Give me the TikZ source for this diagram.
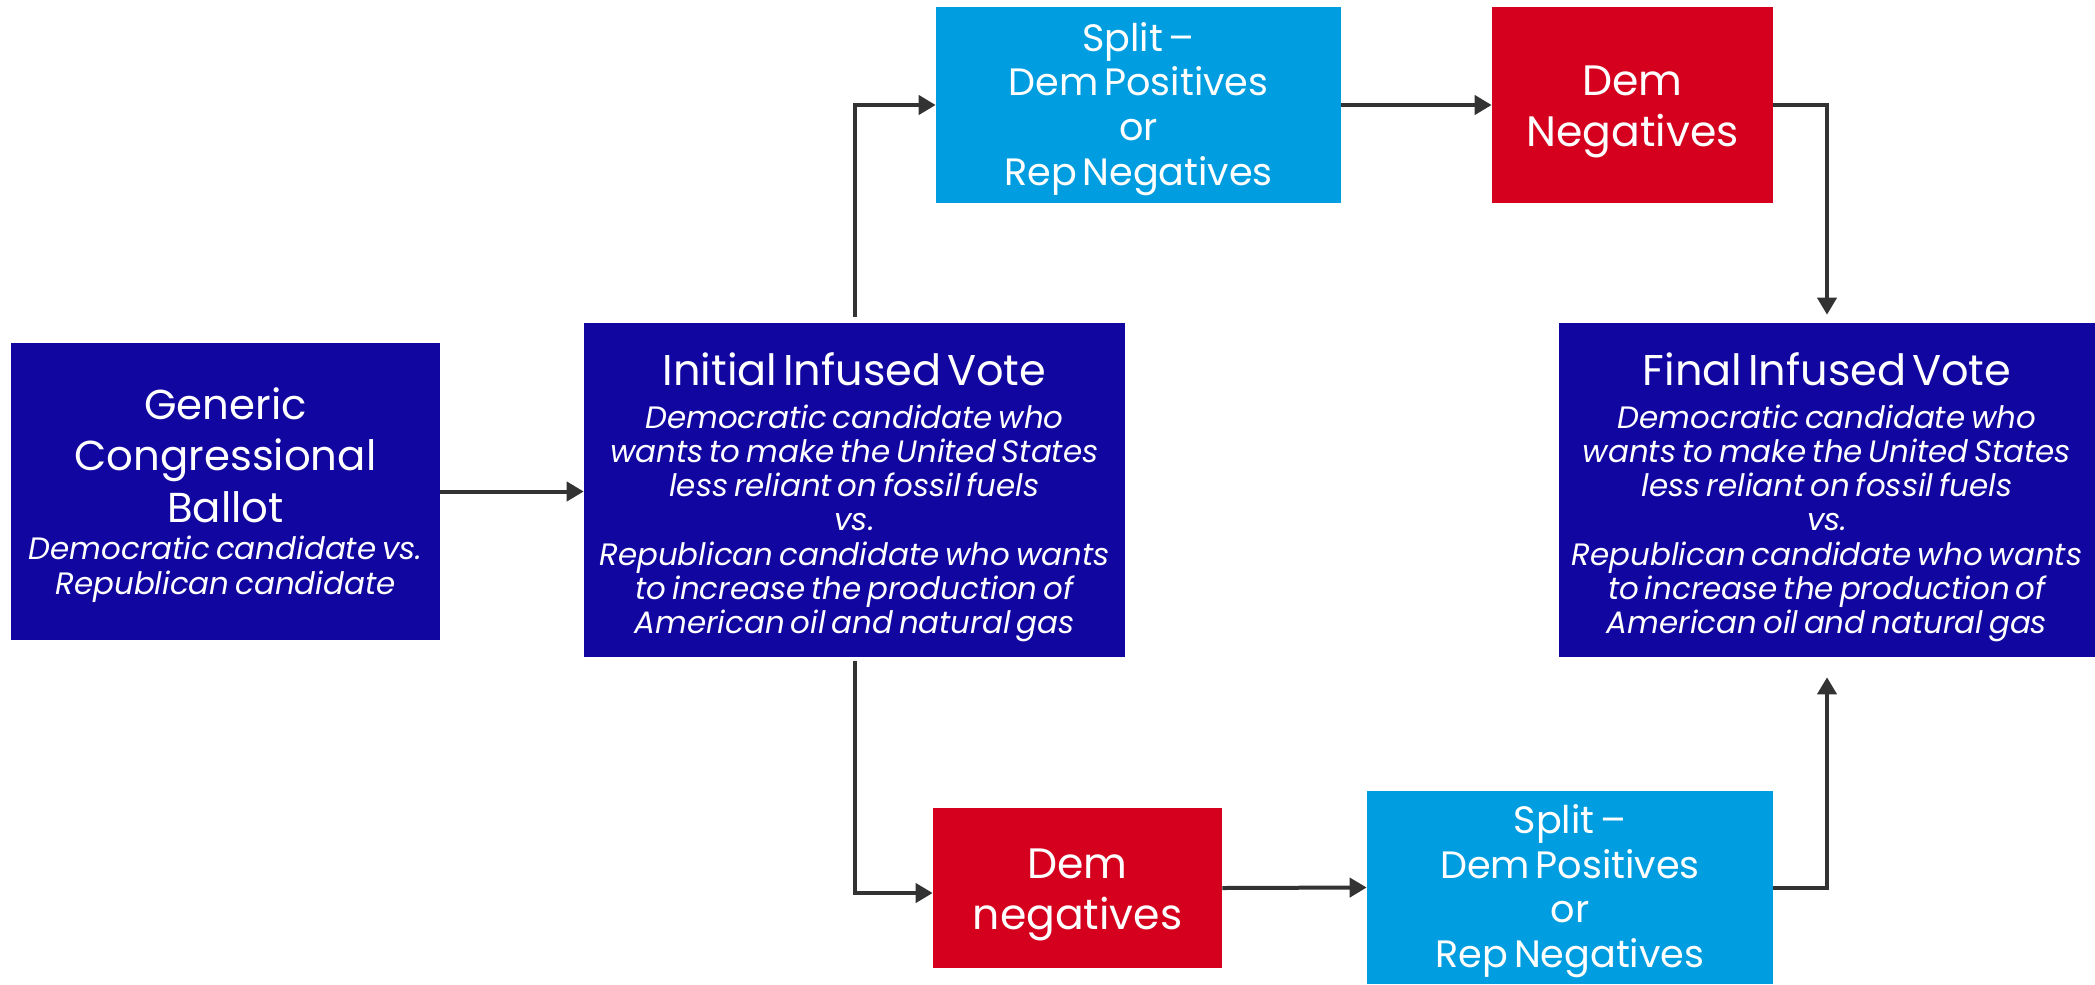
\documentclass[tikz,border=0pt]{standalone}
\usepackage{fontspec}
\setmainfont{Poppins}
\usetikzlibrary{arrows.meta}
\definecolor{navyblue}{RGB}{17,6,160}
\definecolor{skyblue}{RGB}{0,158,224}
\definecolor{demred}{RGB}{213,0,30}
\definecolor{arrowgray}{RGB}{51,51,51}
\newcommand{\push}[1]{\par\vspace*{#1}}
\newcommand{\hd}[3]{{\fontsize{#1}{#2}\selectfont #3\par}}
\newcommand{\sub}[1]{{\fontsize{17.6}{19.5}\selectfont\itshape #1\par}}

\begin{document}
\begin{tikzpicture}[x=0.02cm,y=-0.02cm]
      \tikzstyle{box}=[rectangle,inner sep=0pt,align=center,text=white]
      \tikzstyle{navybox}=[box,fill=navyblue]
      \tikzstyle{skybox}=[box,fill=skyblue]
      \tikzstyle{redbox}=[box,fill=demred]
      \tikzstyle{flow}=[draw=arrowgray,line width=0.08cm,-{Triangle[length=0.34cm,width=0.38cm]}]
      \useasboundingbox (0,0) rectangle (2095,984);
      \node[navybox,text width=8.58cm,minimum height=5.94cm] (ballot) at (225.5,491.5)
        {\push{-7.6pt}\hd{23.8}{29.3}{Generic\\Congressional\\Ballot}\vspace{2pt}\sub{Democratic candidate vs.\\Republican candidate}};
      \node[navybox,text width=10.82cm,minimum height=6.68cm] (initial) at (854.5,490)
        {\push{2.2pt}\hd{24.5}{25}{Initial Infused Vote}\vspace{4.5pt}\sub{Democratic candidate who\\wants to make the United States\\less reliant on fossil fuels\\vs.\\Republican candidate who wants\\to increase the production of\\American oil and natural gas}};
      \node[skybox,text width=8.1cm,minimum height=3.92cm] (splitA) at (1138.5,105)
        {\push{-4.6pt}\hd{21.7}{25.4}{Split --\\Dem Positives\\or\\Rep Negatives}};
      \node[redbox,text width=5.62cm,minimum height=3.92cm] (demnegA) at (1632.5,105)
        {\push{-4.6pt}\hd{24.2}{29}{Dem\\Negatives}};
      \node[navybox,text width=10.72cm,minimum height=6.68cm] (final) at (1827,490)
        {\push{2.2pt}\hd{24.5}{25}{Final Infused Vote}\vspace{4.5pt}\sub{Democratic candidate who\\wants to make the United States\\less reliant on fossil fuels\\vs.\\Republican candidate who wants\\to increase the production of\\American oil and natural gas}};
      \node[redbox,text width=5.78cm,minimum height=3.2cm] (demnegB) at (1077.5,888)
        {\push{-4.6pt}\hd{24.2}{29}{Dem\\negatives}};
      \node[skybox,text width=8.12cm,minimum height=3.86cm] (splitB) at (1570,887.5)
        {\push{-4.6pt}\hd{21.7}{25.4}{Split --\\Dem Positives\\or\\Rep Negatives}};
      % connectors
      \draw[flow] (ballot.east) -- (ballot.east -| initial.west);
      \draw[flow] ([yshift=0.12cm]initial.north) |- (splitA.west);
      \draw[flow] (splitA.east) -- (demnegA.west);
      \draw[flow,shorten >=0.16cm] (demnegA.east) -| (final.north);
      \draw[flow] ([yshift=-0.08cm]initial.south) |- ([yshift=-0.1cm]demnegB.west);
      \draw[flow] (demnegB.east) -- (splitB.west);
      \draw[flow,shorten >=0.4cm] (splitB.east) -| (final.south);
\end{tikzpicture}
\end{document}
